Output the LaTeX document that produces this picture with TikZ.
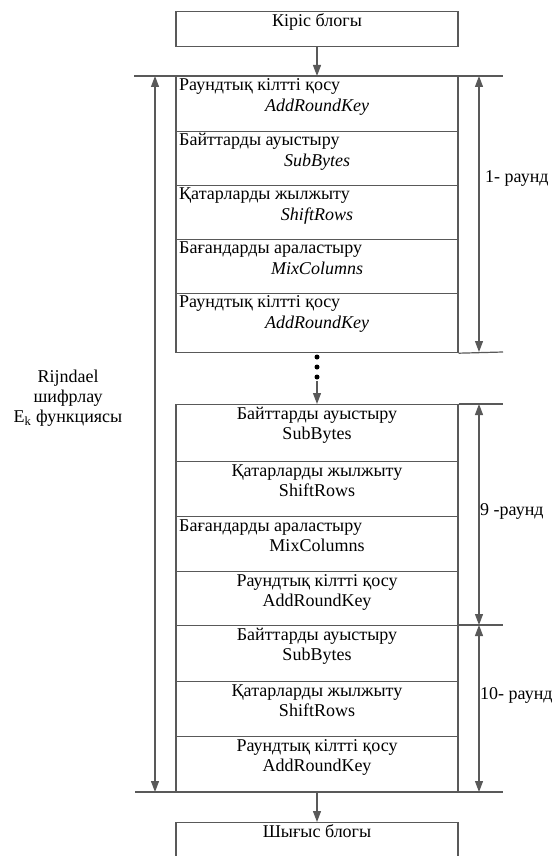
\documentclass[tikz,border=0pt]{standalone}
\usepackage{fontspec}
\setmainfont{Liberation Serif}
\usetikzlibrary{arrows.meta}
\definecolor{linec}{gray}{0.35}
\tikzset{
  row/.style={draw=linec, line width=1.2pt, minimum width=282pt, inner sep=0pt, anchor=north},
  lbl/.style={font=\fontsize{18}{20}\selectfont, inner sep=0pt, align=center},
  tip/.style={-{Triangle[width=8pt,length=11pt]}},
  span/.style={{Triangle[width=8pt,length=11pt]}-{Triangle[width=8pt,length=11pt]}},
  conn/.style={draw=linec, line width=1.2pt},
  bar/.style={draw=linec, line width=1.2pt},
  dotc/.style={circle, fill=black, inner sep=0pt, minimum size=5pt}
}
\begin{document}
\begin{tikzpicture}[x=1pt,y=-1pt]
\useasboundingbox (0,0) rectangle (552,856);
\clip (0,0) rectangle (552,856);

% input block
\node[row, minimum height=35pt] (inp) at (317,11) {};
\node[lbl, anchor=mid] (inpt) at (317,24) {Кіріс блогы};

% round 1
\node[row, minimum height=55pt] (a1) at (317,76) {};
\node[row, minimum height=54pt] (a2) at (317,131) {};
\node[row, minimum height=54pt] (a3) at (317,185) {};
\node[row, minimum height=54pt] (a4) at (317,239) {};
\node[row, minimum height=59pt] (a5) at (317,293) {};
\node[lbl, anchor=mid west] (a1t) at (179,88) {Раундтық кілтті қосу};
\node[lbl, anchor=mid] (a1s) at (317,109) {\itshape AddRoundKey};
\node[lbl, anchor=mid west] (a2t) at (179,143) {Байттарды ауыстыру};
\node[lbl, anchor=mid] (a2s) at (317,164) {\itshape SubBytes};
\node[lbl, anchor=mid west] (a3t) at (179,197) {Қатарларды жылжыту};
\node[lbl, anchor=mid] (a3s) at (317,218) {\itshape ShiftRows};
\node[lbl, anchor=mid west] (a4t) at (179,251) {Бағандарды араластыру};
\node[lbl, anchor=mid] (a4s) at (317,272) {\itshape MixColumns};
\node[lbl, anchor=mid west] (a5t) at (179,305) {Раундтық кілтті қосу};
\node[lbl, anchor=mid] (a5s) at (317,326) {\itshape AddRoundKey};

% round 9
\node[row, minimum height=57pt] (b1) at (317,404) {};
\node[row, minimum height=55pt] (b2) at (317,461) {};
\node[row, minimum height=55pt] (b3) at (317,516) {};
\node[row, minimum height=54pt] (b4) at (317,571) {};
\node[lbl, anchor=mid] (b1t) at (317,417) {Байттарды ауыстыру};
\node[lbl, anchor=mid] (b1s) at (317,437) {SubBytes};
\node[lbl, anchor=mid] (b2t) at (317,474) {Қатарларды жылжыту};
\node[lbl, anchor=mid] (b2s) at (317,494) {ShiftRows};
\node[lbl, anchor=mid west] (b3t) at (179,529) {Бағандарды араластыру};
\node[lbl, anchor=mid] (b3s) at (317,549) {MixColumns};
\node[lbl, anchor=mid] (b4t) at (317,584) {Раундтық кілтті қосу};
\node[lbl, anchor=mid] (b4s) at (317,604) {AddRoundKey};

% round 10
\node[row, minimum height=56pt] (c1) at (317,625) {};
\node[row, minimum height=55pt] (c2) at (317,681) {};
\node[row, minimum height=56pt] (c3) at (317,736) {};
\node[lbl, anchor=mid] (c1t) at (317,638) {Байттарды ауыстыру};
\node[lbl, anchor=mid] (c1s) at (317,658) {SubBytes};
\node[lbl, anchor=mid] (c2t) at (317,694) {Қатарларды жылжыту};
\node[lbl, anchor=mid] (c2s) at (317,714) {ShiftRows};
\node[lbl, anchor=mid] (c3t) at (317,749) {Раундтық кілтті қосу};
\node[lbl, anchor=mid] (c3s) at (317,769) {AddRoundKey};

% output block
\node[row, minimum height=50pt] (outp) at (317,822) {};
\node[lbl, anchor=mid] (outpt) at (317,835) {Шығыс блогы};

% level lines
\coordinate (topL) at (134,76);
\coordinate (topR) at (503,76);
\coordinate (botL) at (135,792);
\coordinate (botR) at (503,792);
\coordinate (r1e) at (503,352);
\coordinate (r9s) at (503,404);
\coordinate (r10s) at (503,625);
\draw[bar] (topL) -- (topR);
\draw[bar] (botL) -- (botR);
\draw[bar] (a5.south east) -- (r1e);
\draw[bar] (b1.north east) -- (r9s);
\draw[bar] (c1.north east) -- (r10s);

% flow arrows
\draw[conn, tip] (inp.south) -- (a1.north);
\node[dotc] (d1) at (317,357) {};
\node[dotc] (d2) at (317,367) {};
\node[dotc] (d3) at (317,377) {};
\coordinate (dk) at (317,381);
\draw[conn, tip] (dk) -- (b1.north);
\draw[conn, tip] (c3.south) -- (outp.north);

% span arrows
\coordinate (lu) at (155,76);
\coordinate (ld) at (155,792);
\draw[conn, span] (lu) -- (ld);
\coordinate (p1) at (479,76);
\coordinate (p2) at (479,352);
\coordinate (p3) at (479,404);
\coordinate (p4) at (479,625);
\coordinate (p5) at (479,792);
\draw[conn, span] (p1) -- (p2);
\draw[conn, span] (p3) -- (p4);
\draw[conn, span] (p4) -- (p5);

% round labels
\node[lbl, anchor=mid west] (l1) at (485,180) {1- раунд};
\node[lbl, anchor=mid west] (l9) at (480,513) {9 -раунд};
\node[lbl, anchor=mid west] (l10) at (480,697) {10- раунд};

% overall caption
\node[lbl, anchor=center] (cap) at (68,398) {Rijndael\\шифрлау\\E\textsubscript{k} функциясы};
\end{tikzpicture}
\end{document}
